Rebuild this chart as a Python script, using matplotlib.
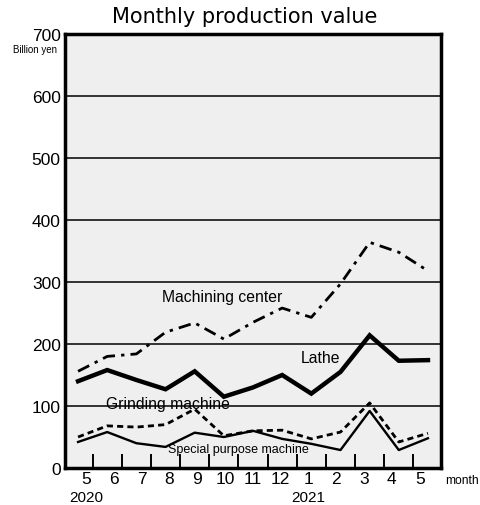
import matplotlib
matplotlib.use("Agg")
import matplotlib.pyplot as plt

plt.rcParams['font.family'] = ['Liberation Sans', 'DejaVu Sans']

months = ["5", "6", "7", "8", "9", "10", "11", "12", "1", "2", "3", "4", "5"]
machining_center = [156, 180, 184, 219, 234, 208, 235, 258, 243, 297, 364, 348, 318]
lathe = [140, 158, 142, 127, 156, 115, 130, 150, 120, 155, 214, 173, 174]
grinding = [50, 68, 66, 70, 95, 52, 60, 61, 47, 58, 105, 42, 56]
special = [42, 58, 40, 34, 57, 50, 60, 47, 39, 29, 92, 29, 48]
y_ticks = [0, 100, 200, 300, 400, 500, 600, 700]

x = list(range(len(months)))

fig = plt.figure(figsize=(4.81, 5.06), dpi=100)
ax = fig.add_axes([0.135, 0.0731, 0.782, 0.8577])
ax.set_facecolor('#efefef')

for v in y_ticks[1:-1]:
    ax.axhline(v, color='black', lw=1.1, zorder=1)

ax.plot(x, machining_center, color='black', lw=2, dashes=(4.5, 2.2, 1.2, 2.2), zorder=3)
ax.plot(x, lathe, color='black', lw=3.2, solid_joinstyle='miter', zorder=3)
ax.plot(x, grinding, color='black', lw=2, dashes=(2.2, 1.5), zorder=3)
ax.plot(x, special, color='black', lw=1.7, zorder=3)

ax.text(4.93, 276, "Machining center", fontsize=11.3, ha='center', va='center')
ax.text(8.3, 179, "Lathe", fontsize=11.3, ha='center', va='center')
ax.text(3.08, 104, "Grinding machine", fontsize=11.3, ha='center', va='center', zorder=4)
ax.text(5.5, 31, "Special purpose machine", fontsize=9, ha='center', va='center', zorder=4)

ax.set_xlim(-0.45, 12.45)
ax.set_ylim(0, 700)
ax.set_yticks(y_ticks)
ax.set_yticklabels([str(v) for v in y_ticks], fontsize=12.5)
ax.tick_params(axis='y', length=0, pad=3)

ax.set_xticks([i + 0.5 for i in range(12)])
ax.set_xticklabels([])
ax.tick_params(axis='x', direction='in', length=10, width=1.4)

xt = ax.get_xaxis_transform()
for i, m in enumerate(months):
    ax.text(0.27 + i * 0.954, -0.008, m, transform=xt, fontsize=12.5, ha='center', va='top')
ax.text(0.27, -0.05, "2020", transform=xt, fontsize=11, ha='center', va='top')
ax.text(0.27 + 8 * 0.954, -0.05, "2021", transform=xt, fontsize=11, ha='center', va='top')
ax.text(1.01, -0.014, "month", transform=ax.transAxes, fontsize=8.7, ha='left', va='top')

ax.text(-0.02, 0.966, "Billion yen", transform=ax.transAxes, fontsize=7, ha='right', va='center')

for s in ax.spines.values():
    s.set_linewidth(2.5)

fig.text(0.509, 0.966, "Monthly production value", fontsize=15, ha='center', va='center',
         family='DejaVu Sans')

fig.savefig("out.png", dpi=100)
